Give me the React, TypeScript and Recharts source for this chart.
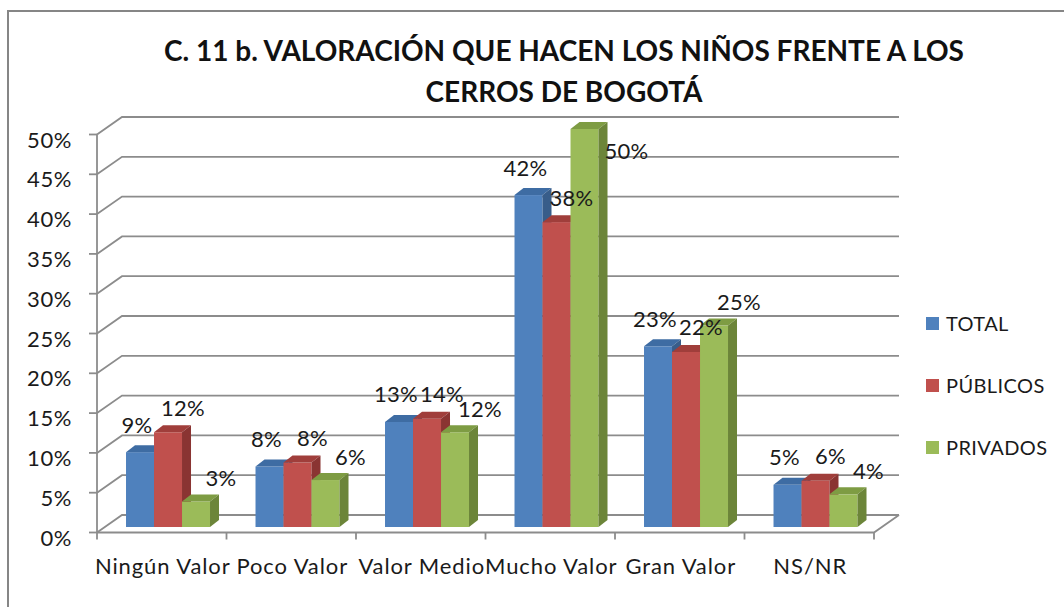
import React from 'react';
import { BarChart, Bar, XAxis, YAxis, CartesianGrid, LabelList, Legend } from 'recharts';

const categories = ['Ningún Valor', 'Poco Valor', 'Valor Medio', 'Mucho Valor', 'Gran Valor', 'NS/NR'];
const totalValues = [9.4, 7.6, 13.2, 41.7, 22.7, 5.3];
const publicosValues = [11.9, 8.1, 13.6, 38.3, 22.0, 5.8];
const privadosValues = [3.2, 5.9, 11.9, 50.0, 25.3, 4.1];
const yTicks = [0, 5, 10, 15, 20, 25, 30, 35, 40, 45, 50];
const seriesNames = ['TOTAL', 'PÚBLICOS', 'PRIVADOS'];
const titleLines = ['C. 11 b. VALORACIÓN QUE HACEN LOS NIÑOS FRENTE A LOS', 'CERROS DE BOGOTÁ'];

const data = categories.map((name, i) => ({
  name,
  total: totalValues[i],
  publicos: publicosValues[i],
  privados: privadosValues[i],
}));

const W = 1064;
const H = 607;
const MARGIN = { top: 129, right: 183, bottom: 30, left: 74 };
const FONT = 'Lato, "Open Sans", sans-serif';
const GRID = '#8c8c8c';
// 3D projection offsets
const FX = -7, FY = 5.5; // front plane
const BX = 18, BY = -12; // back wall
const DX = 9, DY = -7; // bar depth

const styles = [
  { key: 'total', front: '#4F81BD', top: '#3E6CA3', side: '#385D8A', dx: -3, dy: -28 },
  { key: 'publicos', front: '#C0504D', top: '#A03E3B', side: '#8A3432', dx: 15, dy: -25 },
  { key: 'privados', front: '#9BBB59', top: '#7E9C43', side: '#6C8539', dx: 25, dy: -24 },
];

const make3DBar = (front: string, top: string, side: string) => (props: any) => {
  const { x, y, width, height } = props;
  if (width == null || height == null || height <= 0) return <g />;
  return (
    <g>
      <rect x={x} y={y} width={width} height={height} fill={front} />
      <polygon
        points={`${x},${y} ${x + DX},${y + DY} ${x + width + DX},${y + DY} ${x + width},${y}`}
        fill={top}
      />
      <polygon
        points={`${x + width},${y} ${x + width + DX},${y + DY} ${x + width + DX},${y + height + DY} ${x + width},${y + height}`}
        fill={side}
      />
    </g>
  );
};

const makeLabel = (dx: number, dy: number) => (props: any) => {
  const { x, y, width, value } = props;
  if (value == null) return null;
  let lx = x + width / 2 + dx;
  let ly = y + dy;
  if (ly < MARGIN.top) {
    lx = x + width + DX + 19;
    ly = y + 21;
  }
  return (
    <text x={lx} y={ly} textAnchor="middle" dominantBaseline="central" fontFamily={FONT} fontSize={22} letterSpacing={0.3} fill="#1a1a1a">
      {`${Math.round(value)}%`}
    </text>
  );
};

const gridLine = (props: any) => {
  const { x1, y1, x2, index } = props;
  const gy = props.y;
  const gh = props.height;
  const fx = x1 + FX;
  const fy = y1 + FY;
  const bx = x1 + BX;
  const by = y1 + BY;
  const ex = x2 + BX;
  const isFloor = gy != null && gh != null && Math.abs(y1 - (gy + gh)) < 0.5;
  const isTop = gy != null && Math.abs(y1 - gy) < 0.5;
  const parts: any[] = [];
  parts.push(<line key="t" x1={fx - 8} y1={fy} x2={fx} y2={fy} />);
  parts.push(<polyline key="d" points={`${fx},${fy} ${bx},${by} ${ex},${by}`} fill="none" />);
  if (isTop) {
    parts.push(<line key="v" x1={fx} y1={fy} x2={fx} y2={gy + gh + FY} />);
  }
  if (isFloor) {
    const n = categories.length;
    const step = (x2 - x1) / n;
    const rx = x2 + FX;
    parts.push(<polyline key="f" points={`${fx},${fy} ${rx},${fy} ${ex},${by}`} fill="none" />);
    for (let i = 0; i <= n; i++) {
      const tx = fx + i * step;
      parts.push(<line key={`xt${i}`} x1={tx} y1={fy} x2={tx} y2={fy + 7} />);
    }
  }
  return (
    <g key={`gl-${index}-${y1}`} stroke={GRID} strokeWidth={1.8}>
      {parts}
    </g>
  );
};

const YTick = (props: any) => {
  const { y, payload } = props;
  return (
    <text x={72} y={y + 10} textAnchor="end" dominantBaseline="central" fontFamily={FONT} fontSize={22} letterSpacing={0.6} fill="#1a1a1a">
      {`${payload.value}%`}
    </text>
  );
};

const XTick = (props: any) => {
  const { x, y, payload } = props;
  return (
    <text x={x - 6} y={y + 30} textAnchor="middle" dominantBaseline="central" fontFamily={FONT} fontSize={22} letterSpacing={0.9} fill="#1a1a1a">
      {payload.value}
    </text>
  );
};

const LegendContent = () => (
  <div style={{ fontFamily: FONT, fontSize: 20, color: '#1a1a1a', letterSpacing: 0.4 }}>
    {seriesNames.map((name, i) => (
      <div key={name} style={{ display: 'flex', alignItems: 'center', height: 62 }}>
        <span style={{ display: 'inline-block', width: 13, height: 13, background: styles[i].front, marginRight: 7 }} />
        <span>{name}</span>
      </div>
    ))}
  </div>
);

export default function App() {
  return (
    <div style={{ position: 'absolute', left: 0, top: 0, width: W, height: H, overflow: 'hidden', background: '#fff' }}>
      <div
        style={{
          position: 'absolute',
          left: 7,
          top: 10,
          width: W + 20,
          height: H + 20,
          border: '2px solid #868686',
          boxSizing: 'border-box',
        }}
      />
      <div
        style={{
          position: 'absolute',
          left: 0,
          top: 30,
          width: 1128,
          textAlign: 'center',
          fontFamily: FONT,
          fontWeight: 700,
          fontSize: 28,
          lineHeight: '41px',
          color: '#111',
        }}
      >
        {titleLines.map((t) => (
          <div key={t}>{t}</div>
        ))}
      </div>
      <div style={{ position: 'absolute', left: 0, top: 0 }}>
        <BarChart width={W} height={H} data={data} margin={MARGIN} barCategoryGap="17%" barGap={0}>
          <CartesianGrid horizontal={gridLine} vertical={false} />
          <XAxis dataKey="name" axisLine={false} tickLine={false} height={50} tick={<XTick />} interval={0} />
          <YAxis
            domain={[0, 50]}
            ticks={yTicks}
            axisLine={false}
            tickLine={false}
            width={30}
            tick={<YTick />}
            interval={0}
          />
          <Legend
            layout="horizontal"
            verticalAlign="middle"
            align="center"
            content={<LegendContent />}
            wrapperStyle={{ left: 926, top: 292, width: 140, right: 'auto', bottom: 'auto' }}
          />
          {styles.map((s, i) => (
            <Bar
              key={s.key}
              dataKey={s.key}
              name={seriesNames[i]}
              isAnimationActive={false}
              shape={make3DBar(s.front, s.top, s.side)}
            >
              <LabelList dataKey={s.key} content={makeLabel(s.dx, s.dy)} />
            </Bar>
          ))}
        </BarChart>
      </div>
    </div>
  );
}
